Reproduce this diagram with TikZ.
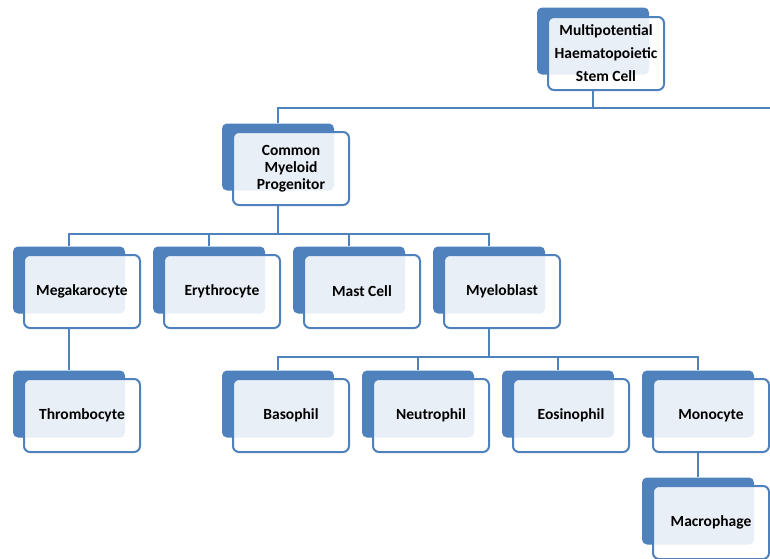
\documentclass[tikz,border=0pt]{standalone}
\usepackage{fontspec}
\setmainfont{Carlito}
\usetikzlibrary{positioning,calc}
\definecolor{CellBlue}{HTML}{4F81BD}

\tikzset{
  cellback/.style={fill=CellBlue,rounded corners=5pt,minimum width=112pt,
    minimum height=67pt,inner sep=0pt},
  cellcard/.style={draw=CellBlue,line width=2pt,rounded corners=6pt,fill=white,
    fill opacity=0.88,text opacity=1,minimum width=116pt,minimum height=73pt,
    inner sep=2pt,align=center,font=\fontsize{15.5}{17}\selectfont\bfseries},
  branch/.style={draw=CellBlue,line width=2.6pt},
}

\begin{document}
\begin{tikzpicture}[x=1pt,y=-1pt]
  \useasboundingbox (0,0) rectangle (770,558);

  % back plates
  \node[cellback] (hscb) at (593,41) {};
  \node[cellback] (cmpb) at (278,157) {};
  \foreach \n/\x in {mega/69,ery/209,mast/349,myelo/489}
    \node[cellback] (\n b) at (\x,280) {};
  \foreach \n/\x in {thrombo/69,baso/278,neutro/418,eosino/558,mono/698}
    \node[cellback] (\n b) at (\x,404) {};
  \node[cellback] (macrob) at (698,511) {};

  % cards
  \node[cellcard] (hsc) at ($(hscb)+(13,12.5)$)
    {Multipotential\\[6pt]Haematopoietic\\[6pt]Stem Cell};
  \node[cellcard] (cmp) at ($(cmpb)+(13,11.5)$) {Common\\Myeloid\\Progenitor};
  \node[cellcard] (mega) at ($(megab)+(13,11.5)$) {Megakarocyte};
  \node[cellcard] (ery) at ($(eryb)+(13,11.5)$) {Erythrocyte};
  \node[cellcard] (mast) at ($(mastb)+(13,11.5)$) {Mast Cell};
  \node[cellcard] (myelo) at ($(myelob)+(13,11.5)$) {Myeloblast};
  \node[cellcard] (thrombo) at ($(thrombob)+(13,11.5)$) {Thrombocyte};
  \node[cellcard] (baso) at ($(basob)+(13,11.5)$) {Basophil};
  \node[cellcard] (neutro) at ($(neutrob)+(13,11.5)$) {Neutrophil};
  \node[cellcard] (eosino) at ($(eosinob)+(13,11.5)$) {Eosinophil};
  \node[cellcard] (mono) at ($(monob)+(13,11.5)$) {Monocyte};
  \node[cellcard] (macro) at ($(macrob)+(13,11.5)$) {Macrophage};

  % tree lines
  \coordinate (rightend) at (770,108);
  \draw[branch] (hscb |- hsc.south) |- (rightend);
  \draw[branch] (cmpb.north) |- (rightend);
  \foreach \c in {megab,eryb,mastb,myelob}
    \draw[branch] (cmpb |- cmp.south) -- ++(0,28) -| (\c.north);
  \draw[branch] (megab |- mega.south) -- (thrombob.north);
  \foreach \c in {basob,neutrob,eosinob,monob}
    \draw[branch] (myelob |- myelo.south) -- ++(0,28) -| (\c.north);
  \draw[branch] (monob |- mono.south) -- (macrob.north);
\end{tikzpicture}
\end{document}
